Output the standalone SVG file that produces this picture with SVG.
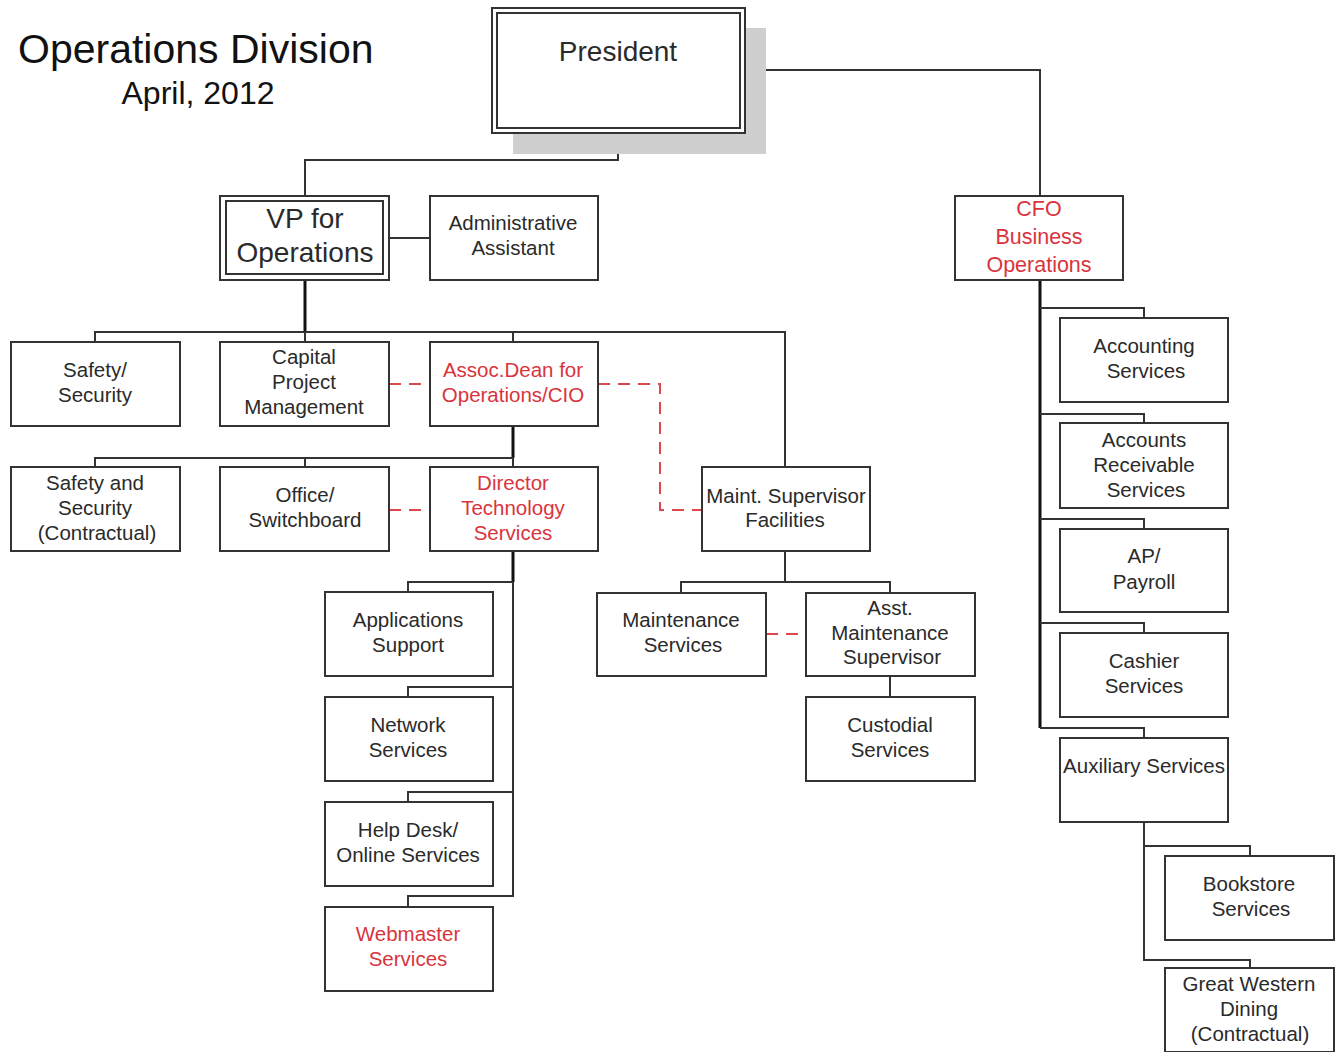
<svg xmlns="http://www.w3.org/2000/svg" width="1340" height="1052" viewBox="0 0 1340 1052">
<style>
.box{fill:#fff;stroke:#333;stroke-width:2}
.t{font-family:"Liberation Sans",Arial,sans-serif;font-size:20.5px;fill:#2a2a2a;text-anchor:middle}
.r{fill:#d9343c}
.ln{fill:none;stroke:#333;stroke-width:2}
.thk{fill:none;stroke:#111;stroke-width:3}
.dash{fill:none;stroke:#e0474c;stroke-width:2;stroke-dasharray:12,8}
</style>
<rect width="1340" height="1052" fill="#fff"/>
<text x="18" y="63" style="font-family:'Liberation Sans',Arial,sans-serif;font-size:41px;fill:#111">Operations Division</text>
<text x="198" y="104" style="font-family:'Liberation Sans',Arial,sans-serif;font-size:32px;fill:#111;text-anchor:middle">April, 2012</text>

<g id="connectors">
<polyline class="ln" points="618,133 618,160 305,160 305,196"/>
<polyline class="ln" points="745,70 1040,70 1040,196"/>
<line class="ln" x1="389" y1="238" x2="430" y2="238"/>
<line class="thk" x1="305" y1="280" x2="305" y2="332"/>
<polyline class="ln" points="95,342 95,332 785,332 785,467"/>
<line class="ln" x1="305" y1="332" x2="305" y2="342"/>
<line class="ln" x1="513" y1="332" x2="513" y2="342"/>
<line class="thk" x1="513" y1="426" x2="513" y2="458"/>
<polyline class="ln" points="95,467 95,458 513,458 513,467"/>
<line class="ln" x1="305" y1="458" x2="305" y2="467"/>
<line class="thk" x1="513" y1="551" x2="513" y2="582"/>
<polyline class="ln" points="513,582 513,896 408,896 408,907"/>
<polyline class="ln" points="513,582 408,582 408,592"/>
<polyline class="ln" points="513,687 408,687 408,697"/>
<polyline class="ln" points="513,792 408,792 408,802"/>
<line class="ln" x1="785" y1="551" x2="785" y2="582"/>
<polyline class="ln" points="681,593 681,582 890,582 890,593"/>
<line class="ln" x1="890" y1="676" x2="890" y2="697"/>
<line class="thk" x1="1040" y1="280" x2="1040" y2="728"/>
<polyline class="ln" points="1040,308 1144,308 1144,318"/>
<polyline class="ln" points="1040,414 1144,414 1144,423"/>
<polyline class="ln" points="1040,519 1144,519 1144,529"/>
<polyline class="ln" points="1040,623 1144,623 1144,633"/>
<polyline class="ln" points="1040,728 1144,728 1144,738"/>
<polyline class="ln" points="1144,822 1144,960 1250,960 1250,968"/>
<polyline class="ln" points="1144,846 1250,846 1250,856"/>
<line class="dash" x1="389" y1="384" x2="430" y2="384"/>
<polyline class="dash" points="598,384 660,384 660,510 702,510"/>
<line class="dash" x1="389" y1="510" x2="430" y2="510"/>
<line class="dash" x1="766" y1="634" x2="806" y2="634"/>
</g>

<g id="president">
<rect x="513" y="28" width="253" height="126" fill="#cfcfcf"/>
<rect class="box" x="492" y="8" width="253" height="125"/>
<rect class="box" x="497" y="13" width="243" height="115"/>
<text class="t" x="618" y="61" style="font-size:28px">President</text>
</g>
<g id="vp">
<rect class="box" x="220" y="196" width="169" height="84"/>
<rect class="box" x="226" y="201" width="157" height="73"/>
<text class="t" x="305" y="228" style="font-size:28px">VP for</text>
<text class="t" x="305" y="262" style="font-size:28px">Operations</text>
</g>
<g id="admin">
<rect class="box" x="430" y="196" width="168" height="84"/>
<text class="t" x="513" y="230">Administrative</text>
<text class="t" x="513" y="255">Assistant</text>
</g>
<g id="cfo">
<rect class="box" x="955" y="196" width="168" height="84"/>
<text class="t r" x="1039" y="216" style="font-size:21.5px">CFO</text>
<text class="t r" x="1039" y="244" style="font-size:21.5px">Business</text>
<text class="t r" x="1039" y="272" style="font-size:21.5px">Operations</text>
</g>
<g id="safety">
<rect class="box" x="11" y="342" width="169" height="84"/>
<text class="t" x="95" y="377">Safety/</text>
<text class="t" x="95" y="402">Security</text>
</g>
<g id="capital">
<rect class="box" x="220" y="342" width="169" height="84"/>
<text class="t" x="304" y="364">Capital</text>
<text class="t" x="304" y="389">Project</text>
<text class="t" x="304" y="414">Management</text>
</g>
<g id="assoc">
<rect class="box" x="430" y="342" width="168" height="84"/>
<text class="t r" x="513" y="377">Assoc.Dean for</text>
<text class="t r" x="513" y="402">Operations/CIO</text>
</g>
<g id="safety-contract">
<rect class="box" x="11" y="467" width="169" height="84"/>
<text class="t" x="95" y="490">Safety and</text>
<text class="t" x="95" y="515">Security</text>
<text class="t" x="97" y="540">(Contractual)</text>
</g>
<g id="office">
<rect class="box" x="220" y="467" width="169" height="84"/>
<text class="t" x="305" y="502">Office/</text>
<text class="t" x="305" y="527">Switchboard</text>
</g>
<g id="director">
<rect class="box" x="430" y="467" width="168" height="84"/>
<text class="t r" x="513" y="490">Director</text>
<text class="t r" x="513" y="515">Technology</text>
<text class="t r" x="513" y="540">Services</text>
</g>
<g id="maint-sup">
<rect class="box" x="702" y="467" width="168" height="84"/>
<text class="t" x="786" y="503">Maint. Supervisor</text>
<text class="t" x="785" y="527">Facilities</text>
</g>
<g id="apps">
<rect class="box" x="325" y="592" width="168" height="84"/>
<text class="t" x="408" y="627">Applications</text>
<text class="t" x="408" y="652">Support</text>
</g>
<g id="network">
<rect class="box" x="325" y="697" width="168" height="84"/>
<text class="t" x="408" y="732">Network</text>
<text class="t" x="408" y="757">Services</text>
</g>
<g id="helpdesk">
<rect class="box" x="325" y="802" width="168" height="84"/>
<text class="t" x="408" y="837">Help Desk/</text>
<text class="t" x="408" y="862">Online Services</text>
</g>
<g id="webmaster">
<rect class="box" x="325" y="907" width="168" height="84"/>
<text class="t r" x="408" y="941">Webmaster</text>
<text class="t r" x="408" y="966">Services</text>
</g>
<g id="maintenance">
<rect class="box" x="597" y="593" width="169" height="83"/>
<text class="t" x="681" y="627">Maintenance</text>
<text class="t" x="683" y="652">Services</text>
</g>
<g id="asst">
<rect class="box" x="806" y="593" width="169" height="83"/>
<text class="t" x="890" y="615">Asst.</text>
<text class="t" x="890" y="640">Maintenance</text>
<text class="t" x="892" y="664">Supervisor</text>
</g>
<g id="custodial">
<rect class="box" x="806" y="697" width="169" height="84"/>
<text class="t" x="890" y="732">Custodial</text>
<text class="t" x="890" y="757">Services</text>
</g>
<g id="accounting">
<rect class="box" x="1060" y="318" width="168" height="84"/>
<text class="t" x="1144" y="353">Accounting</text>
<text class="t" x="1146" y="378">Services</text>
</g>
<g id="ar">
<rect class="box" x="1060" y="423" width="168" height="85"/>
<text class="t" x="1144" y="447">Accounts</text>
<text class="t" x="1144" y="472">Receivable</text>
<text class="t" x="1146" y="497">Services</text>
</g>
<g id="ap">
<rect class="box" x="1060" y="529" width="168" height="83"/>
<text class="t" x="1144" y="563">AP/</text>
<text class="t" x="1144" y="589">Payroll</text>
</g>
<g id="cashier">
<rect class="box" x="1060" y="633" width="168" height="84"/>
<text class="t" x="1144" y="668">Cashier</text>
<text class="t" x="1144" y="693">Services</text>
</g>
<g id="auxiliary">
<rect class="box" x="1060" y="738" width="168" height="84"/>
<text class="t" x="1144" y="773">Auxiliary Services</text>
</g>
<g id="bookstore">
<rect class="box" x="1165" y="856" width="169" height="84"/>
<text class="t" x="1249" y="891">Bookstore</text>
<text class="t" x="1251" y="916">Services</text>
</g>
<g id="dining">
<rect class="box" x="1165" y="968" width="169" height="84"/>
<text class="t" x="1249" y="991">Great Western</text>
<text class="t" x="1249" y="1016">Dining</text>
<text class="t" x="1250" y="1041">(Contractual)</text>
</g>
</svg>
